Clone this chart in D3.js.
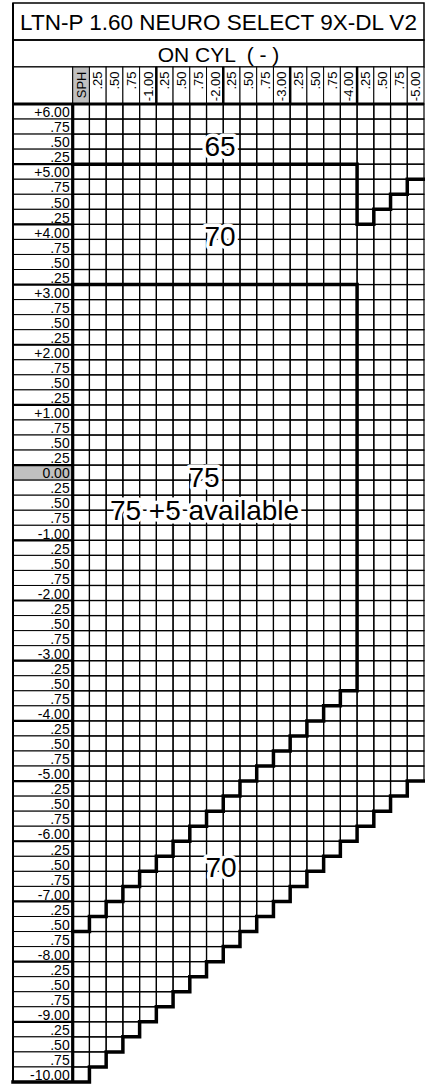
<!DOCTYPE html>
<html>
<head>
<meta charset="utf-8">
<script src="https://cdn.jsdelivr.net/npm/d3@7/dist/d3.min.js"></script>
<style>
  body { margin: 0; background: #fff; }
  svg { display: block; font-family: "Liberation Sans", Arial, sans-serif; }
</style>
</head>
<body>
<svg id="chart" width="425" height="1084"></svg>
<script>
const title = "LTN-P 1.60 NEURO SELECT 9X-DL V2";
const subtitle = "ON CYL  ( - )";

// cyl columns (first one is the plano / SPH column)
const cylValues = [0, -0.25, -0.50, -0.75, -1.00, -1.25, -1.50, -1.75, -2.00, -2.25, -2.50,
  -2.75, -3.00, -3.25, -3.50, -3.75, -4.00, -4.25, -4.50, -4.75, -5.00];
const cylLabels = ["SPH", ".25", ".50", ".75", "-1.00", ".25", ".50", ".75", "-2.00", ".25", ".50",
  ".75", "-3.00", ".25", ".50", ".75", "-4.00", ".25", ".50", ".75", "-5.00"];

// sph rows
const sphValues = [6.00, 5.75, 5.50, 5.25, 5.00, 4.75, 4.50, 4.25, 4.00, 3.75, 3.50, 3.25, 3.00,
  2.75, 2.50, 2.25, 2.00, 1.75, 1.50, 1.25, 1.00, 0.75, 0.50, 0.25, 0.00,
  -0.25, -0.50, -0.75, -1.00, -1.25, -1.50, -1.75, -2.00, -2.25, -2.50, -2.75, -3.00,
  -3.25, -3.50, -3.75, -4.00, -4.25, -4.50, -4.75, -5.00, -5.25, -5.50, -5.75, -6.00,
  -6.25, -6.50, -6.75, -7.00, -7.25, -7.50, -7.75, -8.00, -8.25, -8.50, -8.75, -9.00,
  -9.25, -9.50, -9.75, -10.00];
const sphLabels = ["+6.00", ".75", ".50", ".25", "+5.00", ".75", ".50", ".25", "+4.00", ".75", ".50", ".25", "+3.00",
  ".75", ".50", ".25", "+2.00", ".75", ".50", ".25", "+1.00", ".75", ".50", ".25", "0.00",
  ".25", ".50", ".75", "-1.00", ".25", ".50", ".75", "-2.00", ".25", ".50", ".75", "-3.00",
  ".25", ".50", ".75", "-4.00", ".25", ".50", ".75", "-5.00", ".25", ".50", ".75", "-6.00",
  ".25", ".50", ".75", "-7.00", ".25", ".50", ".75", "-8.00", ".25", ".50", ".75", "-9.00",
  ".25", ".50", ".75", "-10.00"];

// lowest sph of each zone, per cyl column (null = zone not present)
const zone65Low = [5.25, 5.25, 5.25, 5.25, 5.25, 5.25, 5.25, 5.25, 5.25, 5.25, 5.25,
  5.25, 5.25, 5.25, 5.25, 5.25, 5.25, 4.25, 4.50, 4.75, 5.00];
const zone70Low = [3.25, 3.25, 3.25, 3.25, 3.25, 3.25, 3.25, 3.25, 3.25, 3.25, 3.25,
  3.25, 3.25, 3.25, 3.25, 3.25, 3.25, null, null, null, null];
const zone75Low = [-7.50, -7.25, -7.00, -6.75, -6.50, -6.25, -6.00, -5.75, -5.50, -5.25, -5.00,
  -4.75, -4.50, -4.25, -4.00, -3.75, -3.50, null, null, null, null];
const gridLow = [-10.00, -9.75, -9.50, -9.25, -9.00, -8.75, -8.50, -8.25, -8.00, -7.75, -7.50,
  -7.25, -7.00, -6.75, -6.50, -6.25, -6.00, -5.75, -5.50, -5.25, -5.00];

const zoneText = ["65", "70", "75", "75 +5 available", "70"];

const svg = d3.select("#chart");
const frameL = 13, labR = 72.7, frameR = 424;
const frameT = 3, titleB = 40, subB = 67, headB = 104, frameB = 1082;

const x = d3.scaleBand().domain(cylValues).range([labR, frameR]);
const y = d3.scaleBand().domain(sphValues).range([headB, frameB]);
const bw = x.bandwidth(), bh = y.bandwidth();
const rowBottom = s => y(s) + bh;

// title boxes
svg.append("rect").attr("x", frameL).attr("y", frameT).attr("width", frameR - frameL).attr("height", titleB - frameT)
  .attr("fill", "none").attr("stroke", "#000").attr("stroke-width", 1.5);
svg.append("rect").attr("x", frameL).attr("y", titleB).attr("width", frameR - frameL).attr("height", subB - titleB)
  .attr("fill", "none").attr("stroke", "#000").attr("stroke-width", 1.5);
svg.append("text").attr("x", (frameL + frameR) / 2).attr("y", 30).attr("text-anchor", "middle")
  .attr("font-size", 22.5).text(title);
svg.append("text").attr("x", (frameL + frameR) / 2).attr("y", 62).attr("text-anchor", "middle")
  .attr("font-size", 21).style("white-space", "pre").text(subtitle);

// grid cells
const cells = [];
cylValues.forEach((c, j) => {
  sphValues.forEach(s => { if (s >= gridLow[j]) cells.push({ c, s }); });
});
svg.append("g").selectAll("rect").data(cells).join("rect")
  .attr("x", d => x(d.c)).attr("y", d => y(d.s))
  .attr("width", bw).attr("height", bh)
  .attr("fill", "none").attr("stroke", "#000").attr("stroke-width", 1.2);

// sph label column
const lab = svg.append("g");
lab.selectAll("rect").data(sphValues).join("rect")
  .attr("x", frameL).attr("y", d => y(d)).attr("width", labR - frameL).attr("height", bh)
  .attr("fill", d => d === 0 ? "#c0c0c0" : "#fff").attr("stroke", "#000").attr("stroke-width", 1);
lab.selectAll("text").data(sphValues).join("text")
  .attr("x", labR - 3).attr("y", d => rowBottom(d) - 1.8)
  .attr("text-anchor", "end").attr("font-size", 14)
  .text((d, i) => sphLabels[i]);
// heavier lines between whole dioptre groups
const breaks = sphLabels.map((l, i) => {
  if (l.startsWith("+") && i > 0 || l === "0.00") return y(sphValues[i]);
  if (l.startsWith("-")) return rowBottom(sphValues[i]);
  return null;
}).filter(v => v !== null);
lab.selectAll("line").data(breaks).join("line")
  .attr("x1", frameL).attr("x2", labR).attr("y1", d => d).attr("y2", d => d)
  .attr("stroke", "#000").attr("stroke-width", 2.2);

// cyl header
const head = svg.append("g");
head.append("rect").attr("x", frameL).attr("y", subB).attr("width", labR - frameL).attr("height", headB - subB)
  .attr("fill", "#fff").attr("stroke", "#000").attr("stroke-width", 1);
head.selectAll("rect.h").data(cylValues).join("rect").attr("class", "h")
  .attr("x", d => x(d)).attr("y", subB).attr("width", bw).attr("height", headB - subB)
  .attr("fill", (d, i) => i === 0 ? "#c0c0c0" : "#fff").attr("stroke", "#000").attr("stroke-width", 1);
head.selectAll("text").data(cylValues).join("text")
  .attr("transform", d => `translate(${x(d) + bw / 2},${subB + 4.5}) rotate(-90)`)
  .attr("dy", "0.36em").attr("text-anchor", "end").attr("font-size", 13)
  .text((d, i) => cylLabels[i]);
const headBreaks = cylValues.filter((d, i) => cylLabels[i].startsWith("-") && i < cylValues.length - 1);
head.selectAll("line").data(headBreaks).join("line")
  .attr("x1", d => x(d) + bw).attr("x2", d => x(d) + bw)
  .attr("y1", subB).attr("y2", headB)
  .attr("stroke", "#000").attr("stroke-width", 2.5);

// zone boundaries
const line = d3.line();
const thick = { fill: "none", stroke: "#000", "stroke-width": 3.5, "stroke-linejoin": "miter", "stroke-linecap": "square" };
function drawPath(pts) {
  const p = svg.append("path").attr("d", line(pts));
  for (const k in thick) p.attr(k, thick[k]);
}
const pA = [];
cylValues.forEach((c, j) => {
  const b = rowBottom(zone65Low[j]);
  pA.push([x(c), b], [x(c) + bw, b]);
});
drawPath(pA);

const pB = [];
cylValues.forEach((c, j) => {
  if (zone70Low[j] === null) return;
  const t = rowBottom(zone70Low[j]);
  pB.push([x(c), t], [x(c) + bw, t]);
});
for (let j = cylValues.length - 1; j >= 0; j--) {
  if (zone75Low[j] === null) continue;
  const b = rowBottom(zone75Low[j]);
  pB.push([x(cylValues[j]) + bw, b], [x(cylValues[j]), b]);
}
drawPath(pB);

const pC = [];
for (let j = cylValues.length - 1; j >= 0; j--) {
  const b = rowBottom(gridLow[j]);
  pC.push([x(cylValues[j]) + bw, b], [x(cylValues[j]), b]);
}
pC.push([frameL, rowBottom(gridLow[0])]);
drawPath(pC);

// frame pieces
svg.append("line").attr("x1", labR).attr("x2", labR).attr("y1", headB).attr("y2", frameB)
  .attr("stroke", "#000").attr("stroke-width", 3.2);
svg.append("line").attr("x1", frameL).attr("x2", frameR).attr("y1", headB).attr("y2", headB)
  .attr("stroke", "#000").attr("stroke-width", 3.2);
svg.append("line").attr("x1", frameL).attr("x2", frameL).attr("y1", frameT).attr("y2", frameB)
  .attr("stroke", "#000").attr("stroke-width", 2);

// zone labels
const zonePos = [[220, 156], [220, 246], [204, 487], [204.5, 519.5], [221, 877]];
svg.append("g").selectAll("text").data(zoneText).join("text")
  .attr("x", (d, i) => zonePos[i][0]).attr("y", (d, i) => zonePos[i][1])
  .attr("text-anchor", "middle").attr("font-size", 28)
  .attr("stroke", "#fff").attr("stroke-width", 7).attr("stroke-linejoin", "round")
  .attr("paint-order", "stroke").attr("fill", "#000")
  .text(d => d);
</script>
</body>
</html>
